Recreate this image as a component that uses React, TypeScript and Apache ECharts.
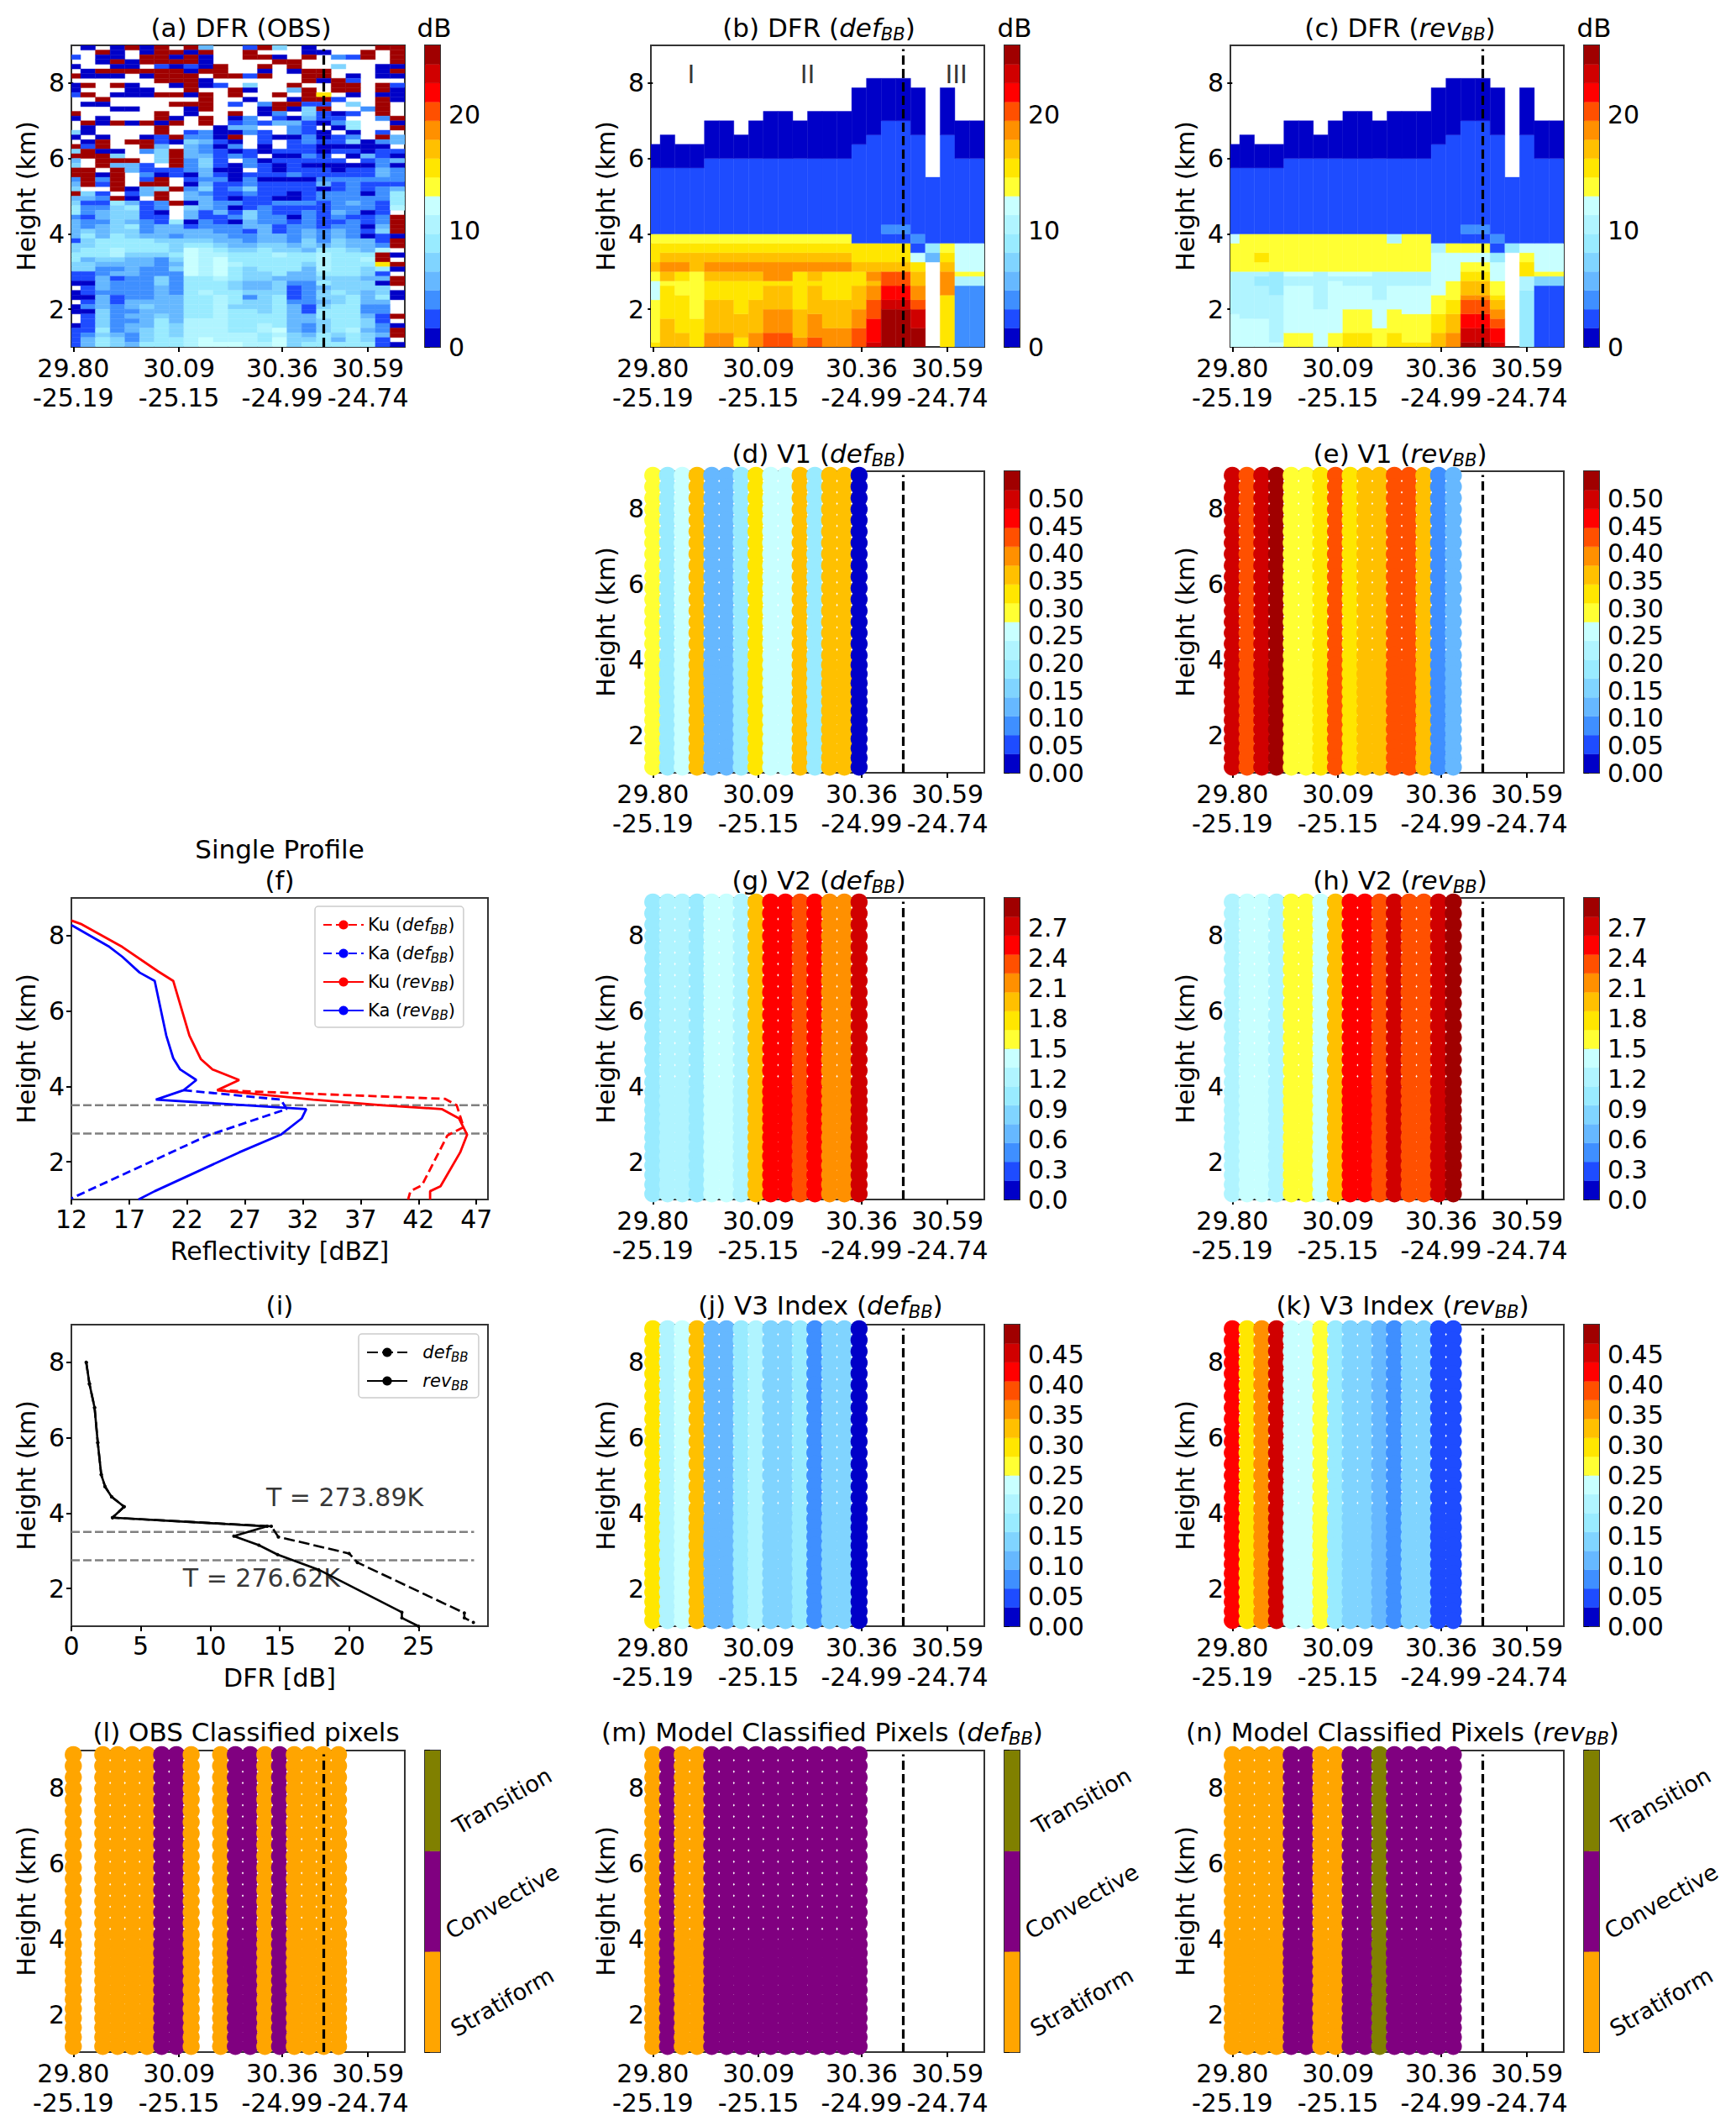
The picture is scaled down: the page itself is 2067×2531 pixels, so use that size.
import React, { useEffect, useRef } from "react";
import * as echarts from "echarts";

const FONT = "DejaVu Sans";
const WIDTH = 2067;
const HEIGHT = 2531;

const latLabels = ["29.80", "30.09", "30.36", "30.59"];
const lonLabels = ["-25.19", "-25.15", "-24.99", "-24.74"];
const tickColumns = [0, 7.17, 14.17, 20];
const profileColumn = 17;
const heightTicks = [2, 4, 6, 8];

const colormap = [
  "#0000c8", "#1e4cff", "#3f8fff", "#66b8ff", "#80d4ff", "#99ebff", "#b0f4ff", "#c8ffff",
  "#ffff33", "#ffe600", "#ffc000", "#ff9000", "#ff5000", "#ff0000", "#d00000", "#a00000",
];
const classColors = ["#ffa500", "#800080", "#808000"];
const classNames = ["Stratiform", "Convective", "Transition"];

// (a) DFR OBS: one string per 125 m gate, top to bottom, one character per ray.
// '.' = no data, hex digit = colour class of the 1.625 dB bins.
const obsRows = [
  ".0.0f0f.f3..1f4.0....ff",
  "..f0.0ff0f..f...00..f.f",
  "1.00.ff0f0..ff0.f.21f.f",
  "..0f0ffff0....ff......f",
  "0..00.1010f..f.f..4..00",
  ".0ffffff0ff..0.0ff...0f",
  "f000.0fff.ff1f..ff.0.00",
  "......fff0......f0f1...",
  "0f.f0..0f01.4..f..ff.f1",
  "0...00..f..f0..3f.ff.f0",
  "1f.000ff0f.f..f.f9.0.00",
  "..f......f..0..0ff1..f0",
  ".00....fff.1.2ff11.4.f.",
  "...00...0f...0f04f..2f.",
  "f.....f.0..f.02.4101.f.",
  "0.0...f0.f.02.10311..2f",
  ".f0f0f0f.f.121331025..0",
  ".0....f...033..21.05..f",
  "40....f.120021.210.0.1.",
  "0.0..01f220f.1002012.f3",
  ".0f.ff104310.1.12114023",
  "f1f..f3.3202.0.1100000.",
  "4f00.24f321010111011011",
  "fff4..4f33121.0021.0310",
  "3.fff.4f241.2011111.123",
  "4.f331.f241021010000020",
  "ff.f31112300.1011101132".slice(0, 23),
  "ff0f.201031011121111132",
  "2f2f.1f.122020000222222",
  "3f1f.ff.031121111312111",
  "4..f034f241241111012123",
  "f41.13f.321121101222025",
  "332f0.f.331011001222225",
  "4115312f032211222123215",
  "5224512.432012111122216",
  "5234410.31314211213201.",
  "213441 1.".replace(" ", "") + "",
  "",
].slice(0, 36).concat([
  "2134411.311242202121 12f".replace(" ", ""),
  "32243215021032212 11212f".replace(" ", ""),
  "32345233122233122 12203f".replace(" ", ""),
  "343442333322131232 3214f".replace(" ", ""),
  "35354332333223323232010",
  "14555544443323324243 31f".replace(" ", ""),
  "44555554554334434 34332f".replace(" ", ""),
  "45565554765445443 55436.".replace(" ", ""),
  "5556444576655565 56555f0".replace(" ", ""),
  "5344332476755555 56556f.".replace(" ", ""),
  "4433332376765555 465559f".replace(" ", ""),
  "4422322476754555 3655450".replace(" ", ""),
  "1123322276754453 355541.".replace(" ", ""),
  "1131224255654433 344433f".replace(" ", ""),
  "0032224255543342 254440f".replace(" ", ""),
  ".132223255543341 234444.".replace(" ", ""),
  "0122223256554441 2454340".replace(" ", ""),
  "0031223355652451 2445350".replace(" ", ""),
  ".131333355654452 234533.".replace(" ", ""),
  "0232343355644453 145522.".replace(" ", ""),
  "0042233355655453 155522.".replace(" ", ""),
  ".142334355655553 355531f".replace(" ", ""),
  ".142235366655553 345541.".replace(" ", ""),
  "0142335466655653 2455420".replace(" ", ""),
  "1152345466655673 245632f".replace(" ", ""),
  "1243245466666564 354543f".replace(" ", ""),
  "1354245567666574 453541.".replace(" ", ""),
  "1354355567776674 5555510".replace(" ", ""),
]);

// Shared upper part of the columns of panels (b) and (c): [top km, colour class], bottom up.
const bRuns: number[][][] = [
  [[1.125, 9], [2.25, 8], [2.75, 7], [3, 8], [3.25, 10], [3.75, 9], [4, 8], [5.75, 1], [6.375, 0]],
  [[1.75, 10], [2.625, 9], [2.75, 8], [3, 10], [3.25, 11], [3.5, 10], [3.75, 9], [4, 8], [5.75, 1], [6.625, 0]],
  [[1.375, 10], [2.375, 9], [2.75, 8], [3, 9], [3.25, 11], [3.5, 10], [3.75, 9], [4, 8], [5.75, 1], [6.375, 0]],
  [[1.75, 9], [3, 8], [3.5, 10], [3.75, 9], [4, 8], [5.75, 1], [6.375, 0]],
  [[1.375, 11], [2.25, 10], [2.75, 9], [3, 10], [3.25, 11], [3.5, 10], [3.75, 9], [4, 8], [6, 1], [7, 0]],
  [[1.375, 11], [2.25, 10], [2.75, 9], [3, 10], [3.25, 11], [3.5, 10], [3.75, 9], [4, 8], [6, 1], [7, 0]],
  [[1.25, 9], [1.875, 10], [2.75, 9], [3, 10], [3.25, 11], [3.5, 10], [3.75, 9], [4, 8], [6, 1], [6.625, 0]],
  [[1.375, 11], [2.25, 10], [2.75, 9], [3, 10], [3.25, 11], [3.5, 10], [3.75, 9], [4, 8], [6, 1], [7, 0]],
  [[1.375, 12], [2, 11], [2.625, 10], [2.75, 9], [3.25, 11], [3.5, 10], [3.75, 9], [4, 8], [6, 1], [7.25, 0]],
  [[1.375, 12], [2, 11], [2.625, 10], [2.75, 9], [3.25, 11], [3.5, 10], [3.75, 9], [4, 8], [6, 1], [7.25, 0]],
  [[1.25, 11], [2, 10], [3, 9], [3.25, 11], [3.5, 10], [3.75, 9], [4, 8], [6, 1], [7, 0]],
  [[1.25, 12], [1.875, 11], [2.625, 10], [2.75, 9], [3, 10], [3.25, 11], [3.5, 10], [3.75, 9], [4, 8], [6, 1], [7.25, 0]],
  [[1.5, 11], [2.25, 10], [3, 9], [3.25, 11], [3.5, 10], [3.75, 9], [4, 8], [6, 1], [7.25, 0]],
  [[1.5, 11], [2.25, 10], [3, 9], [3.25, 11], [3.5, 10], [3.75, 9], [4, 8], [6, 1], [7.25, 0]],
  [[1.5, 12], [2, 11], [2.625, 10], [3, 9], [3.25, 10], [3.75, 9], [6.375, 1], [7.875, 0]],
  [[1.125, 14], [1.75, 13], [2.25, 12], [2.625, 11], [2.75, 10], [3, 11], [3.25, 10], [3.75, 9], [6.625, 1], [8.125, 0]],
  [[2, 15], [2.25, 14], [2.625, 13], [3, 12], [3.25, 10], [3.75, 9], [4, 1], [4.25, 2], [7, 1], [8.125, 0]],
  [[2, 15], [2.25, 14], [2.625, 13], [3, 12], [3.25, 10], [3.75, 9], [4, 1], [4.25, 2], [7, 1], [8.125, 0]],
  [[1.5, 15], [2, 14], [2.25, 12], [2.625, 11], [3, 10], [3.25, 9], [3.5, 7], [3.75, 1], [4, 2], [6.625, 1], [7.875, 0]],
  [[3.25, -1], [3.5, 3], [3.75, 5], [5.5, 1]],
  [[2.375, 9], [3, 11], [3.25, 10], [3.5, 9], [3.75, 8], [6.625, 1], [7.875, 0]],
  [[2.625, 2], [2.875, 6], [3, 8], [3.75, 7], [6, 1], [7, 0]],
  [[2.625, 2], [2.875, 6], [3, 8], [3.75, 7], [6, 1], [7, 0]],
];

const cRuns: number[][][] = [
  [[1.875, 7], [3, 6], [3.75, 8], [4, 7], [5.75, 1], [6.375, 0]],
  [[1.75, 7], [3, 6], [4, 8], [5.75, 1], [6.625, 0]],
  [[1.75, 7], [2.625, 6], [2.875, 5], [3, 6], [3.25, 8], [3.5, 9], [4, 8], [5.75, 1], [6.375, 0]],
  [[1.125, 7], [2.375, 6], [3, 5], [4, 8], [5.75, 1], [6.375, 0]],
  [[1.375, 8], [2.625, 7], [2.875, 6], [3, 7], [4, 8], [6, 1], [7, 0]],
  [[1.375, 8], [2.625, 7], [2.875, 6], [3, 7], [4, 8], [6, 1], [7, 0]],
  [[2, 7], [3, 6], [4, 8], [6, 1], [6.625, 0]],
  [[1.375, 8], [2.75, 7], [2.875, 6], [3, 7], [4, 8], [6, 1], [7, 0]],
  [[1.375, 9], [2, 8], [2.625, 7], [2.875, 6], [3, 7], [4, 8], [6, 1], [7.25, 0]],
  [[1.375, 9], [2, 8], [2.625, 7], [2.875, 6], [3, 7], [4, 8], [6, 1], [7.25, 0]],
  [[1.5, 8], [2.25, 7], [3, 6], [4, 8], [6, 1], [7, 0]],
  [[1.375, 9], [2, 8], [2.625, 7], [3, 6], [3.75, 8], [4, 6], [6, 1], [7.25, 0]],
  [[1.125, 9], [1.875, 8], [2.625, 7], [3, 6], [4, 8], [6, 1], [7.25, 0]],
  [[1.125, 9], [1.875, 8], [2.625, 7], [3, 6], [4, 8], [6, 1], [7.25, 0]],
  [[1.375, 10], [1.875, 9], [2.375, 8], [3.5, 7], [3.75, 6], [6.375, 1], [7.875, 0]],
  [[1.375, 11], [1.875, 10], [2.25, 9], [2.75, 8], [3.5, 7], [3.75, 8], [6.625, 1], [8.125, 0]],
  [[1.125, 15], [1.5, 14], [1.875, 13], [2.25, 12], [2.375, 11], [2.75, 10], [3, 9], [3.25, 8], [3.5, 7], [3.75, 8], [4, 1], [4.25, 2], [7, 1], [8.125, 0]],
  [[1.125, 15], [1.5, 14], [1.875, 13], [2.25, 12], [2.375, 11], [2.75, 10], [3, 9], [3.25, 8], [3.5, 7], [3.75, 8], [4, 1], [4.25, 2], [7, 1], [8.125, 0]],
  [[1.125, 14], [1.5, 13], [1.75, 12], [2, 11], [2.25, 10], [2.375, 9], [2.75, 8], [3.25, 7], [3.5, 5], [3.75, 1], [4, 2], [6.625, 1], [7.875, 0]],
  [[3.5, -1], [3.75, 5], [5.5, 1]],
  [[2.5, 5], [2.875, 6], [3.25, 9], [3.5, 8], [3.75, 7], [6.625, 1], [7.875, 0]],
  [[2.625, 1], [2.875, 4], [3, 8], [3.75, 7], [6, 1], [7, 0]],
  [[2.625, 1], [2.875, 4], [3, 8], [3.75, 7], [6, 1], [7, 0]],
];

// Model gates used by the stripe panels (km)
const gateHeights = [
  8.89, 8.59, 8.29, 7.99, 7.7, 7.4, 7.1, 6.8, 6.5, 6.2, 5.9, 5.6, 5.3, 5.0, 4.71, 4.42, 4.12,
  3.86, 3.62, 3.38, 3.14, 2.9, 2.65, 2.4, 2.15, 1.9, 1.65, 1.4, 1.15, 0.9,
];

const v1Def = [0.29, 0.19, 0.25, 0.36, 0.12, 0.12, 0.19, 0.33, 0.25, 0.25, 0.36, 0.19, 0.36, 0.36, 0.01];
const v1Rev = [0.5, 0.43, 0.5, 0.53, 0.29, 0.29, 0.33, 0.43, 0.33, 0.36, 0.36, 0.43, 0.43, 0.36, 0.09, 0.12];
const v2Def = [1.03, 1.22, 1.22, 1.03, 1.41, 1.41, 1.22, 1.97, 2.53, 2.53, 2.34, 2.53, 2.16, 2.16, 2.72];
const v2Rev = [1.22, 1.41, 1.41, 1.22, 1.6, 1.6, 1.41, 1.97, 2.53, 2.53, 2.34, 2.72, 2.34, 2.34, 2.72, 2.9];
const v3Def = [0.3, 0.2, 0.235, 0.33, 0.11, 0.11, 0.17, 0.2, 0.14, 0.14, 0.17, 0.08, 0.14, 0.14, 0.015];
const v3Rev = [0.42, 0.3, 0.36, 0.45, 0.235, 0.235, 0.265, 0.17, 0.14, 0.14, 0.11, 0.08, 0.14, 0.14, 0.05, 0.05];

const classObs = [0, null, 0, 0, 0, 0, 1, 1, 0, null, 0, 1, 1, 0, 1, 0, 0, 0, 0];
const classDef = [0, 1, 0, 0, 1, 1, 1, 1, 1, 1, 1, 1, 1, 1, 1];
const classRev = [0, 0, 0, 0, 1, 1, 0, 0, 1, 1, 2, 1, 1, 1, 1, 1];

const kuDefX = [24.6, 44.3, 45.3, 45.9, 44.5, 42.3, 41.3, 41.1];
const kuDefY = [3.9, 3.67, 3.5, 2.92, 2.7, 1.38, 1.22, 1.0];
const kaDefX = [21.7, 30.1, 30.6, 23.8, 12];
const kaDefY = [3.9, 3.65, 3.4, 2.7, 1.03];
const kuRevX = [12, 12.9, 16.4, 19.5, 20.8, 22.2, 23.2, 24.2, 26.5, 24.6, 32.9, 38.9, 44, 45.5, 46.2, 45.6, 43.9, 43, 43];
const kuRevY = [8.4, 8.3, 7.7, 7.05, 6.8, 5.35, 4.72, 4.45, 4.17, 3.9, 3.65, 3.5, 3.4, 3.15, 2.72, 2.25, 1.35, 1.22, 1.0];
const kaRevX = [12, 15.2, 16.4, 17.9, 19.2, 20.2, 20.8, 21.4, 22.8, 21.7, 19.3, 32.3, 31.9, 30.1, 26.5, 19.2, 17.8];
const kaRevY = [8.28, 7.72, 7.44, 7.02, 6.8, 5.35, 4.75, 4.45, 4.17, 3.9, 3.65, 3.4, 3.15, 2.72, 2.25, 1.22, 1.0];

const dfrDefX = [1.07, 1.3, 1.67, 1.9, 2.15, 2.43, 2.9, 3.8, 2.96, 14.4, 14.9, 20, 20.6, 28.3, 28.3, 28.95];
const dfrDefY = [8, 7.43, 6.8, 5.87, 5.02, 4.7, 4.43, 4.17, 3.88, 3.65, 3.37, 2.93, 2.69, 1.35, 1.22, 1.1];
const dfrRevX = [1.07, 1.3, 1.67, 1.9, 2.15, 2.43, 2.9, 3.8, 2.96, 14.1, 11.7, 13.5, 14.85, 17.8, 23.8, 23.8, 25];
const dfrRevY = [8, 7.43, 6.8, 5.87, 5.02, 4.7, 4.43, 4.17, 3.88, 3.65, 3.39, 3.15, 2.9, 2.5, 1.37, 1.22, 1.0];

const meltingTop = 3.5;
const meltingBottom = 2.75;

const zip = (xs: number[], ys: number[]) => xs.map((x, i) => [x, ys[i]]);
const bin = (v: number, max: number) => colormap[Math.min(15, Math.max(0, Math.floor((v / max) * 16)))];

function App() {
  const ref = useRef<HTMLDivElement>(null);
  useEffect(() => {
    const chart = echarts.init(ref.current!, null, { renderer: "svg", width: WIDTH, height: HEIGHT });

    const grid: any[] = [];
    const xAxis: any[] = [];
    const yAxis: any[] = [];
    const series: any[] = [];
    const title: any[] = [];
    const legend: any[] = [];

    const cols = [85, 775, 1465];
    const rows = [54, 561, 1069, 1577, 2084];
    const W = 397;
    const H = 359;
    const FS = 30;
    const TICK = "#000";
    const richSub = {
      i: { fontFamily: FONT, fontStyle: "italic", fontSize: 31 },
      s: { fontFamily: FONT, fontStyle: "italic", fontSize: 21, verticalAlign: "bottom" },
    };

    const addTitle = (text: string, cx: number, cy: number, fontSize = 31) =>
      title.push({
        text,
        left: cx,
        top: cy,
        padding: 0,
        textAlign: "center",
        textVerticalAlign: "middle",
        textStyle: { fontFamily: FONT, fontSize, fontWeight: "normal", color: "#000", lineHeight: 37, rich: richSub },
      });

    const axisBase = {
      axisLine: { show: false },
      splitLine: { show: false },
      axisTick: { show: true, length: 6, lineStyle: { color: TICK, width: 2 } },
    };

    const addGrid = (left: number, top: number, width: number, height: number, border = "#333") => {
      grid.push({ left, top, width, height, show: true, borderColor: border, borderWidth: 2, backgroundColor: "#fff", containLabel: false });
      return grid.length - 1;
    };

    const heightAxis = (gi: number) =>
      yAxis.push({
        ...axisBase,
        gridIndex: gi,
        type: "value",
        min: 1,
        max: 9,
        name: "Height (km)",
        nameLocation: "middle",
        nameGap: 39,
        nameTextStyle: { fontFamily: FONT, fontSize: FS, color: "#000" },
        axisTick: { ...axisBase.axisTick, customValues: heightTicks },
        axisLabel: { customValues: heightTicks, fontFamily: FONT, fontSize: FS, color: "#000", margin: 8 },
      });

    const rayPanel = (left: number, top: number) => {
      const gi = addGrid(left, top, W, H);
      xAxis.push({
        ...axisBase,
        gridIndex: gi,
        type: "value",
        min: -0.13,
        max: 22.5,
        axisTick: { ...axisBase.axisTick, customValues: tickColumns },
        axisLabel: {
          customValues: tickColumns,
          fontFamily: FONT,
          fontSize: FS,
          color: "#000",
          lineHeight: 35,
          margin: 8,
          formatter: (v: number) => {
            const i = tickColumns.findIndex((t) => Math.abs(t - v) < 0.01);
            return `${latLabels[i]}\n${lonLabels[i]}`;
          },
        },
      });
      heightAxis(gi);
      return gi;
    };

    const cellSeries = (gi: number, data: number[][], colorOf: (v: number) => string) =>
      series.push({
        type: "custom",
        xAxisIndex: gi,
        yAxisIndex: gi,
        clip: true,
        silent: true,
        progressive: 0,
        data,
        encode: { x: [0, 1], y: [2, 3] },
        renderItem: (_: any, api: any) => {
          const a = api.coord([api.value(0), api.value(2)]);
          const b = api.coord([api.value(1), api.value(3)]);
          const c = colorOf(api.value(4));
          return {
            type: "rect",
            shape: { x: a[0], y: b[1], width: b[0] - a[0], height: a[1] - b[1] },
            style: { fill: c, stroke: c, lineWidth: 0.4 },
          };
        },
      });

    const profileLine = (gi: number) =>
      series.push({
        type: "line",
        xAxisIndex: gi,
        yAxisIndex: gi,
        symbol: "none",
        silent: true,
        z: 6,
        data: [
          [profileColumn, 1],
          [profileColumn, 8.9],
        ],
        lineStyle: { color: "#000", width: 3.2, type: [11, 5] },
      });

    const colorbar = (left: number, top: number, max: number, ticks: number[], fmt: (v: number) => string) => {
      const gi = addGrid(left, top, 18, H);
      xAxis.push({ gridIndex: gi, type: "value", min: 0, max: 1, show: false });
      yAxis.push({
        ...axisBase,
        gridIndex: gi,
        type: "value",
        position: "right",
        min: 0,
        max,
        axisTick: { ...axisBase.axisTick, customValues: ticks },
        axisLabel: { customValues: ticks, formatter: fmt, fontFamily: FONT, fontSize: FS, color: "#000", margin: 10 },
      });
      const step = max / 16;
      cellSeries(gi, colormap.map((_, i) => [0, 1, i * step, (i + 1) * step, (i + 0.5) * step]), (v) => bin(v, max));
    };

    const classbar = (left: number, top: number) => {
      const gi = addGrid(left, top, 18, H);
      xAxis.push({ gridIndex: gi, type: "value", min: 0, max: 1, show: false });
      yAxis.push({
        ...axisBase,
        gridIndex: gi,
        type: "value",
        position: "right",
        min: 0,
        max: 3,
        axisTick: { ...axisBase.axisTick, customValues: [0, 1, 2, 3] },
        axisLabel: {
          customValues: [0.5, 1.5, 2.5],
          formatter: (v: number) => classNames[Math.floor(v)],
          rotate: 30,
          align: "center",
          fontFamily: FONT,
          fontSize: 27,
          color: "#000",
          margin: 74,
        },
      });
      cellSeries(gi, classNames.map((_, i) => [0, 1, i, i + 1, i]), (v) => classColors[v]);
    };

    const runsPanel = (left: number, top: number, runs: number[][][]) => {
      const gi = rayPanel(left, top);
      const data: number[][] = [];
      runs.forEach((col, c) => {
        let bottom = 1;
        col.forEach(([topKm, level]) => {
          if (level >= 0) data.push([c - 0.5, c + 0.5, bottom, topKm, (level + 0.5) * 1.625]);
          bottom = topKm;
        });
      });
      cellSeries(gi, data, (v) => bin(v, 26));
      profileLine(gi);
      return gi;
    };

    const stripePanel = (left: number, top: number, values: (number | null)[], colorOf: (v: number) => string) => {
      const gi = rayPanel(left, top);
      const data: number[][] = [];
      values.forEach((v, c) => {
        if (v === null) return;
        gateHeights.forEach((h) => data.push([c, h, v]));
      });
      series.push({
        type: "scatter",
        xAxisIndex: gi,
        yAxisIndex: gi,
        symbol: "circle",
        symbolSize: 20.4,
        silent: true,
        progressive: 0,
        large: false,
        clip: true,
        data,
        itemStyle: { opacity: 1, color: (p: any) => colorOf(p.value[2]) },
      });
      profileLine(gi);
    };

    const dbTicks = [0, 10, 20];
    const fmtNum = (d: number) => (v: number) => v.toFixed(d);

    // Row 1
    {
      const gi = rayPanel(cols[0], rows[0]);
      const data: number[][] = [];
      obsRows.forEach((row, r) => {
        const topKm = 9 - r * 0.125;
        row.split("").forEach((ch, c) => {
          if (ch === ".") return;
          data.push([c - 0.5, c + 0.5, topKm - 0.125, topKm, (parseInt(ch, 16) + 0.5) * 1.625]);
        });
      });
      cellSeries(gi, data, (v) => bin(v, 26));
      profileLine(gi);
      colorbar(cols[0] + W + 24, rows[0], 26, dbTicks, fmtNum(0));
      addTitle("(a) DFR (OBS)", 287, 33);
      addTitle("dB", 517, 33);
    }
    {
      const gi = runsPanel(cols[1], rows[0], bRuns);
      series.push({
        type: "scatter",
        xAxisIndex: gi,
        yAxisIndex: gi,
        symbolSize: 1,
        silent: true,
        itemStyle: { color: "rgba(0,0,0,0)" },
        label: { show: true, position: "inside", formatter: "{b}", fontFamily: FONT, fontSize: 30, color: "#000" },
        data: [
          { name: "I", value: [2.6, 8.24] },
          { name: "II", value: [10.5, 8.24] },
          { name: "III", value: [20.6, 8.24] },
        ],
      });
      colorbar(cols[1] + W + 24, rows[0], 26, dbTicks, fmtNum(0));
      addTitle("(b) DFR ({i|def}{s|BB})", 975, 33);
      addTitle("dB", 1208, 33);
    }
    runsPanel(cols[2], rows[0], cRuns);
    colorbar(cols[2] + W + 24, rows[0], 26, dbTicks, fmtNum(0));
    addTitle("(c) DFR ({i|rev}{s|BB})", 1667, 33);
    addTitle("dB", 1898, 33);

    // Row 2
    const v1Ticks = [0, 0.05, 0.1, 0.15, 0.2, 0.25, 0.3, 0.35, 0.4, 0.45, 0.5];
    stripePanel(cols[1], rows[1], v1Def, (v) => bin(v, 0.55));
    colorbar(cols[1] + W + 24, rows[1], 0.55, v1Ticks, fmtNum(2));
    addTitle("(d) V1 ({i|def}{s|BB})", 975, 540);
    stripePanel(cols[2], rows[1], v1Rev, (v) => bin(v, 0.55));
    colorbar(cols[2] + W + 24, rows[1], 0.55, v1Ticks, fmtNum(2));
    addTitle("(e) V1 ({i|rev}{s|BB})", 1667, 540);

    // Row 3
    const v2Ticks = [0, 0.3, 0.6, 0.9, 1.2, 1.5, 1.8, 2.1, 2.4, 2.7];
    stripePanel(cols[1], rows[2], v2Def, (v) => bin(v, 3));
    colorbar(cols[1] + W + 24, rows[2], 3, v2Ticks, fmtNum(1));
    addTitle("(g) V2 ({i|def}{s|BB})", 975, 1048);
    stripePanel(cols[2], rows[2], v2Rev, (v) => bin(v, 3));
    colorbar(cols[2] + W + 24, rows[2], 3, v2Ticks, fmtNum(1));
    addTitle("(h) V2 ({i|rev}{s|BB})", 1667, 1048);

    // Row 4
    const v3Ticks = [0, 0.05, 0.1, 0.15, 0.2, 0.25, 0.3, 0.35, 0.4, 0.45];
    stripePanel(cols[1], rows[3], v3Def, (v) => bin(v, 0.5));
    colorbar(cols[1] + W + 24, rows[3], 0.5, v3Ticks, fmtNum(2));
    addTitle("(j) V3 Index ({i|def}{s|BB})", 977, 1554);
    stripePanel(cols[2], rows[3], v3Rev, (v) => bin(v, 0.5));
    colorbar(cols[2] + W + 24, rows[3], 0.5, v3Ticks, fmtNum(2));
    addTitle("(k) V3 Index ({i|rev}{s|BB})", 1670, 1554);

    // Row 5
    const classOf = (v: number) => classColors[v];
    stripePanel(cols[0], rows[4], classObs, classOf);
    classbar(cols[0] + W + 24, rows[4]);
    addTitle("(l) OBS Classified pixels", 293, 2062);
    stripePanel(cols[1], rows[4], classDef, classOf);
    classbar(cols[1] + W + 24, rows[4]);
    addTitle("(m) Model Classified Pixels ({i|def}{s|BB})", 979, 2062);
    stripePanel(cols[2], rows[4], classRev, classOf);
    classbar(cols[2] + W + 24, rows[4]);
    addTitle("(n) Model Classified Pixels ({i|rev}{s|BB})", 1670, 2062);

    // Profile panels
    const profilePanel = (top: number, min: number, max: number, ticks: number[], name: string) => {
      const gi = addGrid(cols[0], top, 496, H);
      xAxis.push({
        ...axisBase,
        gridIndex: gi,
        type: "value",
        min,
        max,
        name,
        nameLocation: "middle",
        nameGap: 46,
        nameTextStyle: { fontFamily: FONT, fontSize: FS, color: "#000" },
        axisTick: { ...axisBase.axisTick, customValues: ticks },
        axisLabel: { customValues: ticks, fontFamily: FONT, fontSize: FS, color: "#000", margin: 8 },
      });
      heightAxis(gi);
      return gi;
    };
    const grayLine = (gi: number, x0: number, x1: number, y: number) =>
      series.push({
        type: "line",
        xAxisIndex: gi,
        yAxisIndex: gi,
        symbol: "none",
        silent: true,
        z: 3,
        data: [
          [x0, y],
          [x1, y],
        ],
        lineStyle: { color: "#808080", width: 2.4, type: [10, 4] },
      });
    const legendRich = {
      i: { fontFamily: FONT, fontStyle: "italic", fontSize: 21 },
      s: { fontFamily: FONT, fontStyle: "italic", fontSize: 15, verticalAlign: "bottom" },
    };
    const legendFmt = (name: string) => name.replace(/(def|rev)BB/, "{i|$1}{s|BB}");

    const fGrid = profilePanel(rows[2], 12, 48, [12, 17, 22, 27, 32, 37, 42, 47], "Reflectivity [dBZ]");
    addTitle("Single Profile\n(f)", 333, 1029);
    grayLine(fGrid, 12, 48, meltingTop);
    grayLine(fGrid, 12, 48, meltingBottom);
    const profile = (name: string, xs: number[], ys: number[], color: string, dashed: boolean) =>
      series.push({
        type: "line",
        name,
        xAxisIndex: fGrid,
        yAxisIndex: fGrid,
        symbol: "none",
        silent: true,
        clip: true,
        z: 4,
        data: zip(xs, ys),
        lineStyle: { color, width: 2.8, type: dashed ? [10, 5] : "solid" },
        itemStyle: { color },
      });
    profile("Ku (defBB)", kuDefX, kuDefY, "#ff0000", true);
    profile("Ka (defBB)", kaDefX, kaDefY, "#0000ff", true);
    profile("Ku (revBB)", kuRevX, kuRevY, "#ff0000", false);
    profile("Ka (revBB)", kaRevX, kaRevY, "#0000ff", false);
    legend.push({
      left: 375,
      top: 1079,
      orient: "vertical",
      padding: [9, 10, 7, 9],
      itemWidth: 48,
      itemHeight: 14,
      itemGap: 8,
      selectedMode: false,
      borderColor: "#ccc",
      borderWidth: 1.5,
      borderRadius: 4,
      backgroundColor: "#fff",
      z: 8,
      data: ["Ku (defBB)", "Ka (defBB)", "Ku (revBB)", "Ka (revBB)"],
      formatter: legendFmt,
      textStyle: { fontFamily: FONT, fontSize: 21, color: "#000", lineHeight: 26, rich: legendRich },
    });

    const iGrid = profilePanel(rows[3], 0, 30, [0, 5, 10, 15, 20, 25], "DFR [dB]");
    addTitle("(i)", 333, 1554);
    grayLine(iGrid, 0, 29, meltingTop);
    grayLine(iGrid, 0, 29, meltingBottom);
    const dfrLine = (name: string, xs: number[], ys: number[], dashed: boolean) =>
      series.push({
        type: "line",
        name,
        xAxisIndex: iGrid,
        yAxisIndex: iGrid,
        symbol: "circle",
        symbolSize: 4,
        silent: true,
        z: 4,
        data: zip(xs, ys),
        lineStyle: { color: "#000", width: 2.6, type: dashed ? [13, 5] : "solid" },
        itemStyle: { color: "#000" },
      });
    dfrLine("defBB", dfrDefX, dfrDefY, true);
    dfrLine("revBB", dfrRevX, dfrRevY, false);
    series.push({
      type: "scatter",
      xAxisIndex: iGrid,
      yAxisIndex: iGrid,
      symbolSize: 1,
      silent: true,
      z: 5,
      itemStyle: { color: "rgba(0,0,0,0)" },
      label: { show: true, position: "right", distance: 0, formatter: "{b}", fontFamily: FONT, fontSize: 30, color: "#000" },
      data: [
        { name: "T = 273.89K", value: [14, 4.43] },
        { name: "T = 276.62K", value: [8, 2.28] },
      ],
    });
    legend.push({
      left: 427,
      top: 1588,
      orient: "vertical",
      padding: [9, 12, 7, 9],
      itemWidth: 48,
      itemHeight: 14,
      itemGap: 8,
      selectedMode: false,
      borderColor: "#ccc",
      borderWidth: 1.5,
      borderRadius: 4,
      backgroundColor: "#fff",
      z: 8,
      data: ["defBB", "revBB"],
      formatter: (n: string) => `  ${legendFmt(n)}`,
      textStyle: { fontFamily: FONT, fontSize: 21, color: "#000", lineHeight: 26, rich: legendRich },
    });

    chart.setOption({ animation: false, backgroundColor: "#fff", grid, xAxis, yAxis, series, title, legend });
    return () => chart.dispose();
  }, []);
  return <div ref={ref} style={{ position: "absolute", left: 0, top: 0, width: WIDTH, height: HEIGHT }} />;
}

export default App;
